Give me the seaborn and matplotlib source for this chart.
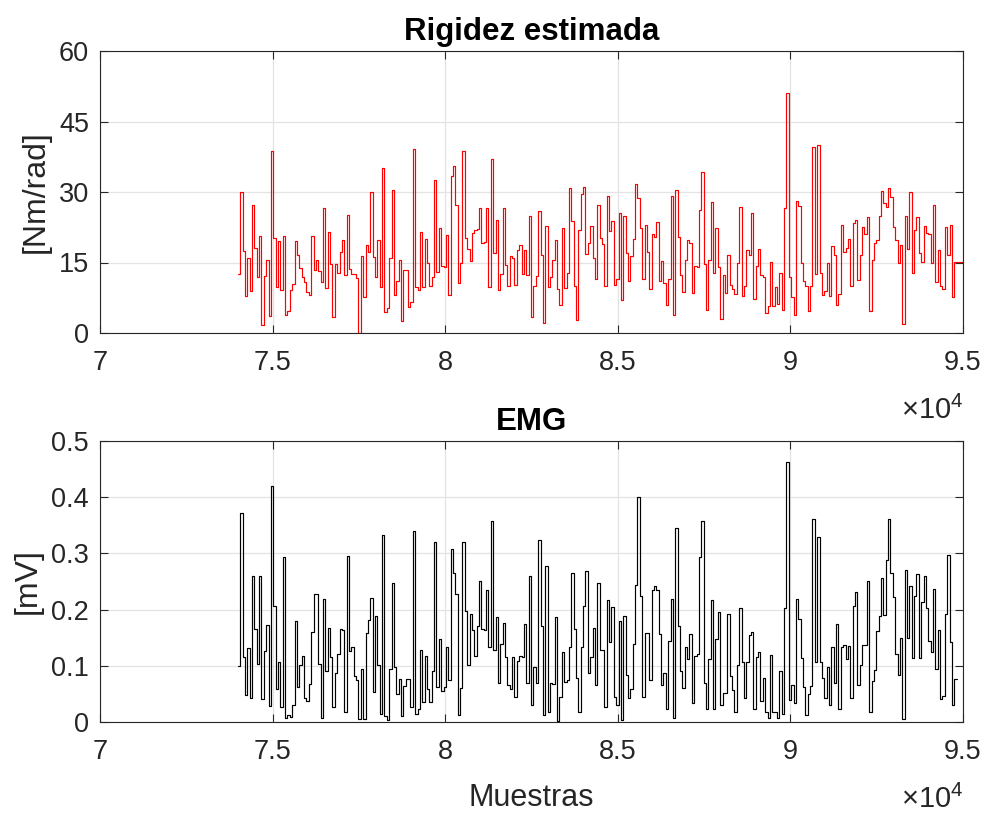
import numpy as np
import pandas as pd
import matplotlib
matplotlib.use("Agg")
import matplotlib.pyplot as plt
import seaborn as sns

# ---- data ----
rigidez = [
    12.6, 30.1, 17.4, 7.9, 16.0, 8.9, 27.3, 18.1, 11.9, 20.6, 1.7, 12.1, 15.6, 3.7, 38.8, 20.3, 9.7, 19.6, 9.2, 20.6,
    3.9, 4.7, 9.1, 10.4, 19.6, 16.6, 13.9, 11.9, 10.8, 8.7, 8.0, 20.6, 13.4, 15.5, 13.1, 10.9, 26.6, 9.6, 21.4, 14.6,
    3.5, 14.6, 12.8, 17.2, 19.8, 12.4, 25.1, 13.7, 12.6,
    12.6, 11.6, 0.1, 16.4, 7.6, 18.7, 17.2, 29.9, 16.1, 11.9, 19.7, 9.7, 35.1, 4.4, 5.3, 15.9, 30.4, 8.1, 11.1, 15.6,
    2.6, 13.4, 13.3, 5.6, 6.6, 39.1, 9.7, 9.2, 21.5, 9.8, 20.0, 14.9, 10.1, 11.9, 32.6, 13.0, 22.3, 14.2, 14.0, 20.9,
    8.0, 33.5, 35.5, 27.2, 10.6, 14.9, 38.7, 20.3, 17.8, 15.3, 21.2, 21.9,
    22.2, 26.5, 19.1, 19.3, 26.7, 9.8, 37.1, 17.1, 24.0, 9.2, 12.6, 26.6, 14.4, 9.9, 16.4, 16.0, 10.3, 17.6, 18.7, 12.6,
    17.6, 12.4, 24.9, 3.3, 10.1, 12.1, 25.9, 16.5, 2.2, 22.8, 9.8, 11.9, 15.6, 19.8, 9.4, 6.0, 22.4, 9.6, 12.8, 30.8,
    23.9, 10.1, 2.8, 21.9, 29.6, 31.0, 16.9, 19.2, 22.8, 16.0, 11.4, 27.3,
    20.3, 19.0, 10.1, 29.2, 21.7, 23.9, 10.3, 11.4, 25.5, 7.1, 24.9, 17.1, 11.1, 16.4, 19.9, 31.7, 28.7, 22.4, 11.5, 22.9,
    17.3, 9.4, 21.0, 20.4, 23.6, 11.1, 15.3, 10.6, 5.9, 11.4, 29.2, 3.9, 30.5, 20.5, 12.4, 8.7, 15.5, 19.8, 19.2, 8.5,
    14.2, 14.1, 26.1, 34.3, 14.6, 4.9, 15.6, 27.8, 12.8, 22.4, 14.0, 2.9, 12.4,
    8.5, 16.6, 10.3, 9.4, 8.3, 14.8, 26.9, 7.9, 9.9, 17.6, 16.7, 25.5, 7.3, 14.2, 17.9, 12.4, 11.9, 4.2, 5.8, 15.1,
    5.8, 9.7, 6.1, 12.8, 4.9, 26.5, 51.0, 11.9, 7.6, 3.9, 28.1, 27.1, 14.9, 11.0, 9.9, 4.7, 10.1, 39.6, 12.6, 39.9,
    12.8, 8.0, 8.9, 14.9, 7.8, 18.5, 16.6, 5.9, 8.4, 22.9, 17.3, 18.0,
    20.1, 9.9, 23.3, 24.1, 11.2, 16.6, 22.6, 21.0, 24.6, 4.7, 15.5, 19.2, 19.8, 24.8, 30.3, 27.6, 26.9, 30.8, 28.9, 22.6,
    19.7, 14.8, 18.7, 1.9, 24.9, 17.8, 29.9, 12.8, 21.9, 24.6, 17.1, 15.1, 22.8, 21.2, 21.0, 14.8, 27.3, 10.8, 17.6, 10.1,
    9.4, 22.6, 16.5, 23.0, 7.7, 15.1, 15.1, 15.1, 15.1, 15.1,
]

emg = [
    0.100, 0.372, 0.115, 0.048, 0.131, 0.042, 0.260, 0.165, 0.104, 0.259, 0.041, 0.126, 0.173, 0.028, 0.420, 0.206,
    0.058, 0.107, 0.027, 0.293, 0.008, 0.012, 0.009, 0.030, 0.179, 0.063, 0.101, 0.118, 0.042, 0.038, 0.067, 0.161,
    0.227, 0.227, 0.104, 0.008, 0.219, 0.090, 0.168, 0.116, 0.026, 0.088, 0.121, 0.165, 0.164, 0.018, 0.296, 0.127,
    0.134, 0.082,
    0.075, 0.005, 0.094, 0.005, 0.159, 0.181, 0.221, 0.053, 0.189, 0.101, 0.015, 0.333, 0.011, 0.004, 0.094, 0.247,
    0.098, 0.049, 0.076, 0.011, 0.064, 0.077, 0.077, 0.027, 0.340, 0.015, 0.024, 0.129, 0.035, 0.118, 0.058, 0.035,
    0.091, 0.320, 0.062, 0.148, 0.056, 0.062, 0.133, 0.075, 0.308, 0.265, 0.228, 0.012, 0.060, 0.320, 0.198, 0.101,
    0.192, 0.164, 0.117,
    0.171, 0.251, 0.165, 0.164, 0.235, 0.134, 0.358, 0.128, 0.187, 0.069, 0.138, 0.177, 0.116, 0.066, 0.058, 0.116,
    0.044, 0.109, 0.118, 0.115, 0.174, 0.070, 0.259, 0.031, 0.097, 0.069, 0.324, 0.171, 0.012, 0.278, 0.017, 0.069,
    0.068, 0.186, 0.002, 0.045, 0.124, 0.072, 0.074, 0.134, 0.266, 0.165, 0.078, 0.017, 0.134, 0.206, 0.269, 0.087,
    0.115, 0.167, 0.066, 0.248,
    0.129, 0.128, 0.026, 0.217, 0.143, 0.205, 0.045, 0.030, 0.180, 0.004, 0.189, 0.084, 0.042, 0.059, 0.138, 0.244,
    0.401, 0.225, 0.044, 0.158, 0.158, 0.075, 0.235, 0.242, 0.234, 0.157, 0.066, 0.088, 0.024, 0.145, 0.218, 0.008,
    0.346, 0.170, 0.091, 0.060, 0.134, 0.112, 0.156, 0.033, 0.117, 0.121, 0.293, 0.358, 0.069, 0.024, 0.112, 0.217,
    0.024, 0.148, 0.196, 0.030, 0.051,
    0.052, 0.192, 0.081, 0.057, 0.018, 0.101, 0.202, 0.106, 0.042, 0.107, 0.155, 0.161, 0.024, 0.115, 0.125, 0.038,
    0.078, 0.018, 0.007, 0.120, 0.018, 0.017, 0.007, 0.090, 0.014, 0.203, 0.463, 0.040, 0.065, 0.034, 0.219, 0.183,
    0.113, 0.063, 0.012, 0.049, 0.064, 0.361, 0.106, 0.330, 0.106, 0.078, 0.043, 0.098, 0.030, 0.133, 0.069, 0.174,
    0.024, 0.134, 0.137, 0.112,
    0.135, 0.043, 0.207, 0.232, 0.066, 0.101, 0.137, 0.137, 0.251, 0.018, 0.073, 0.093, 0.162, 0.189, 0.257, 0.190,
    0.288, 0.362, 0.266, 0.223, 0.121, 0.084, 0.150, 0.005, 0.270, 0.150, 0.242, 0.113, 0.224, 0.263, 0.113, 0.214,
    0.259, 0.203, 0.144, 0.125, 0.236, 0.094, 0.164, 0.041, 0.046, 0.193, 0.298, 0.143, 0.030, 0.076, 0.076,
]

sample_start = 73993
sample_step = 68.5

x_ticks = [70000, 75000, 80000, 85000, 90000, 95000]
x_tick_labels = ["7", "7.5", "8", "8.5", "9", "9.5"]
top_y_ticks = [0, 15, 30, 45, 60]
bottom_y_ticks = [0, 0.1, 0.2, 0.3, 0.4, 0.5]
bottom_y_labels = ["0", "0.1", "0.2", "0.3", "0.4", "0.5"]

top_title = "Rigidez estimada"
bottom_title = "EMG"
top_ylabel = "[Nm/rad]"
bottom_ylabel = "[mV]"
xlabel = "Muestras"

# ---- style ----
sns.set_theme(style="whitegrid")
plt.rcParams["font.family"] = ["Liberation Sans", "DejaVu Sans"]
plt.rcParams["mathtext.fontset"] = "custom"
plt.rcParams["mathtext.rm"] = "Liberation Sans"

axis_color = "#262626"
grid_color = "#e3e3e3"

fig = plt.figure(figsize=(9.87, 8.17), dpi=100)
ax1 = fig.add_axes([100 / 987, 1 - 333 / 817, 863 / 987, 282 / 817])
ax2 = fig.add_axes([100 / 987, 1 - 722 / 817, 863 / 987, 281 / 817])

df_top = pd.DataFrame({"muestra": sample_start + sample_step * np.arange(len(rigidez)), "valor": rigidez})
df_bot = pd.DataFrame({"muestra": sample_start + sample_step * np.arange(len(emg)), "valor": emg})

sns.lineplot(data=df_top, x="muestra", y="valor", ax=ax1, color="#ff0000", linewidth=0.85,
             drawstyle="steps-post", estimator=None, errorbar=None)
sns.lineplot(data=df_bot, x="muestra", y="valor", ax=ax2, color="#000000", linewidth=0.85,
             drawstyle="steps-post", estimator=None, errorbar=None)

for ax, yt, ylab, title, ylim in [
    (ax1, top_y_ticks, [str(v) for v in top_y_ticks], top_title, (0, 60)),
    (ax2, bottom_y_ticks, bottom_y_labels, bottom_title, (0, 0.5)),
]:
    ax.set_facecolor("white")
    ax.set_xlim(70000, 95000)
    ax.set_ylim(*ylim)
    ax.set_xticks(x_ticks)
    ax.set_xticklabels(x_tick_labels)
    ax.set_yticks(yt)
    ax.set_yticklabels(ylab)
    ax.grid(True, color=grid_color, linewidth=0.9)
    ax.set_axisbelow(True)
    for s in ax.spines.values():
        s.set_visible(True)
        s.set_color(axis_color)
        s.set_linewidth(0.8)
    ax.tick_params(direction="in", length=6, width=0.8, color=axis_color,
                   labelsize=19.5, labelcolor=axis_color, top=True, right=True,
                   bottom=True, left=True)
    ax.tick_params(axis="x", pad=12)
    ax.tick_params(axis="y", pad=8)
    ax.set_title(title, fontsize=22.5, fontweight="bold", color="black", pad=8)
    ax.set_xlabel("")
    ax.set_ylabel("")
    ax.text(1.0, -0.275, r"$\times 10^{4}$", transform=ax.transAxes, ha="right", va="center",
            fontsize=21, color=axis_color)

ax1.set_ylabel(top_ylabel, fontsize=23, color=axis_color, labelpad=6)
ax2.set_ylabel(bottom_ylabel, fontsize=23, color=axis_color, labelpad=6)
ax2.set_xlabel(xlabel, fontsize=22, color=axis_color, labelpad=13)

fig.savefig("out.png", dpi=100, facecolor="white")
